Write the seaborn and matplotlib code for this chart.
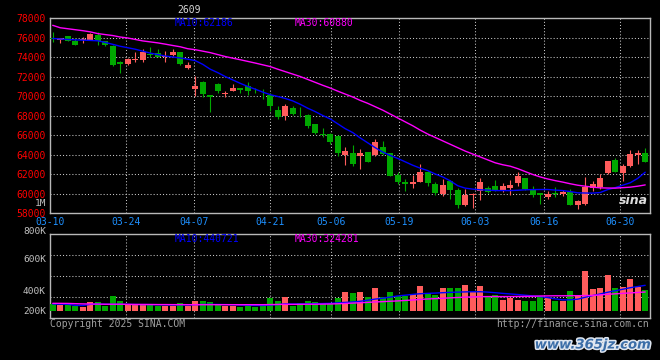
import numpy as np
import pandas as pd
import matplotlib
matplotlib.use("Agg")
import matplotlib.pyplot as plt
import matplotlib.patheffects as pe
import seaborn as sns

# daily K-line, 80 trading days 03-10 .. 07-04
open_ = [76000, 75730, 76140, 75630, 75700, 75760, 76270, 75600, 75120, 73520,
         73290, 73700, 73670, 74250, 74440, 74000, 74210, 74480, 72910, 70750,
         71390, 70140, 71250, 70170, 70540, 70850, 71050, 70540, 70340, 70140,
         68540, 67930, 68780, 68300, 68100, 67090, 66070, 66070, 65900, 63940,
         64140, 63800, 64270, 63930, 64720, 64140, 61900, 61220, 60980, 61220,
         62240, 60990, 59970, 61320, 60410, 58780, 59800, 60300, 60550, 60810,
         60410, 60550, 61090, 61560, 60410, 60070, 59630, 60000, 59900, 60140,
         58850, 58950, 60550, 60650, 62070, 63460, 62100, 62850, 63930, 64140]
high = [76550, 76000, 76200, 75900, 76050, 76470, 76540, 75650, 75220, 73540,
        73850, 74540, 74820, 75050, 74780, 74610, 74780, 74560, 73520, 72070,
        71560, 70140, 71340, 70470, 71260, 70850, 71460, 70820, 70710, 70310,
        68950, 69190, 69020, 68850, 68200, 67090, 66750, 66240, 65950, 64820,
        64950, 64550, 64270, 65630, 65390, 64200, 62170, 61490, 61900, 63020,
        62340, 61220, 61490, 61420, 60550, 60480, 60070, 61560, 60810, 61390,
        61090, 61390, 62170, 61560, 60810, 60070, 60300, 60650, 60380, 60480,
        59360, 61660, 61320, 62000, 63350, 63600, 63020, 64480, 64480, 64620]
low = [75550, 75430, 75600, 75230, 75430, 75720, 75220, 75100, 73120, 72400,
       73180, 73520, 73520, 73970, 73970, 73520, 74100, 73190, 72780, 69970,
       69900, 68340, 70270, 69900, 70470, 70310, 70140, 70300, 69700, 68440,
       67600, 67490, 68100, 67870, 66750, 66070, 65840, 65050, 63860, 62920,
       62850, 62510, 63190, 63800, 63930, 61800, 60990, 60300, 60550, 61160,
       60810, 59870, 59730, 59460, 58510, 58720, 58510, 59360, 60070, 60300,
       60200, 59870, 60810, 60390, 59630, 58950, 59460, 59630, 59790, 58780,
       58440, 58850, 60300, 60480, 62000, 62170, 61320, 62680, 63020, 63190]
close = [75850, 75960, 75630, 75250, 75800, 76340, 75660, 75200, 73190, 73260,
         73800, 73800, 74480, 74200, 74030, 74140, 74480, 73290, 73160, 71050,
         70240, 69910, 70470, 70310, 70850, 70640, 70470, 70470, 70270, 68950,
         67870, 69020, 68200, 68230, 66910, 66170, 66000, 65290, 64140, 64370,
         63020, 64140, 63250, 65290, 64040, 61830, 61220, 60980, 61220, 62240,
         61090, 60070, 60890, 60410, 58850, 59870, 59970, 61220, 60200, 60410,
         60810, 60890, 61830, 60500, 59800, 59800, 59970, 59940, 60200, 58850,
         59190, 60710, 60990, 61560, 63290, 62240, 62790, 64040, 64140, 63250]
ma10 = [75900, 75850, 75800, 75760, 75730, 75700, 75660, 75500, 75300, 75100,
        74950, 74800, 74600, 74400, 74250, 74100, 74000, 73900, 73780, 73630,
        73250, 72750, 72400, 72000, 71650, 71300, 70980, 70700, 70400, 70140,
        69950, 69750, 69500, 69150, 68750, 68400, 68000, 67650, 67150, 66650,
        66250, 65700, 65200, 64700, 64250, 63900, 63600, 63250, 62900, 62600,
        62350, 62000, 61700, 61300, 60800, 60550, 60450, 60380, 60350, 60300,
        60300, 60300, 60330, 60380, 60400, 60410, 60410, 60350, 60300, 60200,
        60070, 60050, 60040, 60100, 60400, 60600, 60850, 61100, 61550, 62186]
ma30 = [77250, 77000, 76900, 76800, 76700, 76580, 76400, 76300, 76200, 76050,
        75950, 75800, 75650, 75550, 75450, 75320, 75180, 75050, 74850, 74750,
        74600, 74450, 74250, 74050, 73880, 73720, 73550, 73380, 73200, 73020,
        72750, 72500, 72250, 72000, 71700, 71400, 71100, 70820, 70500, 70200,
        69900, 69550, 69250, 68900, 68550, 68150, 67750, 67350, 66950, 66500,
        66100, 65750, 65400, 65050, 64700, 64350, 64050, 63750, 63450, 63150,
        62950, 62800, 62550, 62250, 61950, 61700, 61490, 61320, 61170, 61000,
        60850, 60750, 60650, 60580, 60560, 60550, 60600, 60650, 60750, 60880]
volume = [114000, 96000, 96000, 79000, 66000, 144000, 144000, 84000, 254000, 166000,
          96000, 96000, 96000, 96000, 79000, 79000, 79000, 126000, 79000, 166000,
          166000, 144000, 96000, 79000, 79000, 66000, 79000, 56000, 96000, 214000,
          166000, 242000, 79000, 126000, 166000, 144000, 109000, 114000, 224000, 329000,
          312000, 329000, 242000, 399000, 242000, 329000, 254000, 259000, 289000, 429000,
          312000, 271000, 399000, 399000, 399000, 446000, 329000, 429000, 254000, 271000,
          184000, 224000, 184000, 166000, 166000, 242000, 214000, 166000, 166000, 341000,
          254000, 697000, 376000, 399000, 621000, 399000, 417000, 551000, 417000, 359000]
vol_ma10 = [114000, 112000, 110000, 90000, 88000, 108000, 112000, 110000, 108000, 110000,
            108000, 106000, 104000, 104000, 102000, 100000, 98000, 100000, 98000, 102000,
            106000, 108000, 106000, 104000, 102000, 96000, 92000, 88000, 88000, 96000,
            104000, 116000, 114000, 116000, 118000, 120000, 122000, 126000, 134000, 142000,
            150000, 162000, 180000, 200000, 215000, 235000, 255000, 268000, 282000, 294000,
            300000, 305000, 312000, 318000, 322000, 326000, 328000, 329000, 322000, 312000,
            300000, 290000, 280000, 268000, 256000, 244000, 226000, 204000, 186000, 188000,
            198000, 232000, 262000, 290000, 320000, 345000, 372000, 399000, 420000, 440721]
vol_ma30 = [126000, 125000, 124000, 120000, 116000, 114000, 112000, 110000, 110000, 110000,
            108000, 106000, 106000, 105000, 104000, 104000, 103000, 103000, 102000, 102000,
            102000, 102000, 102000, 102000, 102000, 102000, 102000, 102000, 102000, 104000,
            106000, 108000, 108000, 108000, 110000, 110000, 112000, 114000, 118000, 124000,
            130000, 136000, 142000, 150000, 155000, 162000, 168000, 176000, 184000, 194000,
            202000, 208000, 214000, 222000, 228000, 234000, 238000, 242000, 244000, 244000,
            244000, 244000, 246000, 248000, 250000, 254000, 256000, 258000, 258000, 259000,
            259000, 262000, 264000, 272000, 284000, 292000, 300000, 308000, 316000, 324281]

tick_days = [0, 10, 19, 29, 37, 46, 56, 65, 75]
tick_labels = ['03-10', '03-24', '04-07', '04-21', '05-06', '05-19', '06-03', '06-16', '06-30']
price_ticks = list(range(58000, 78001, 2000))
vol_labels = ['1M', '800K', '600K', '400K', '200K']
vol_label_y = [203, 231, 260, 291, 311]   # pixel rows used by the sina chart

RED = '#ff5c5c'
GREEN = '#00a800'
GRID = '#c8c8c8'
FRAME = '#b8b8b8'

df = pd.DataFrame({'day': np.arange(len(close)), 'open': open_, 'high': high,
                   'low': low, 'close': close, 'ma10': ma10, 'ma30': ma30,
                   'volume': volume, 'vma10': vol_ma10, 'vma30': vol_ma30})
df['dir'] = np.where(df['close'] >= df['open'], 'up', 'down')
colors = np.where(df['dir'] == 'up', RED, GREEN)

sns.set_theme(style="dark", rc={'axes.facecolor': 'black', 'figure.facecolor': 'black'})
plt.rcParams['font.family'] = ['DejaVu Sans Mono', 'DejaVu Sans']

W, H = 660, 360
fig = plt.figure(figsize=(6.6, 3.6), dpi=100, facecolor='black')


def box(l, t, r, b):
    return [l / W, 1 - b / H, (r - l) / W, (b - t) / H]


def ftext(x, y, s, **kw):
    kw.setdefault('fontsize', 7)
    kw.setdefault('va', 'center')
    fig.text(x / W, 1 - y / H, s, **kw)


ax_p = fig.add_axes(box(50, 18, 650, 213))
ax_v = fig.add_axes(box(50, 234, 650, 318))
XLIM = (-0.36, 79.64)
# sina puts the date grid on a slightly different step than the candles
grid_x = [XLIM[0] + d * 80 / 79 for d in tick_days]
dots = (0, (1, 2))

# ---- price panel
ax_p.vlines(df['day'], df['low'], df['high'], colors=colors, lw=0.8, zorder=3)
body_lo = np.minimum(df['open'], df['close'])
body_h = np.maximum((df['close'] - df['open']).abs(), 70)
ax_p.bar(df['day'], body_h, bottom=body_lo, width=0.76, color=colors, linewidth=0, zorder=3)
sns.lineplot(data=df, x='day', y='ma10', color='#0000ff', lw=1, ax=ax_p, zorder=4)
sns.lineplot(data=df, x='day', y='ma30', color='#ff00ff', lw=1, ax=ax_p, zorder=4)

for y in price_ticks[1:-1]:
    ax_p.axhline(y, color=GRID, lw=0.75, ls=dots, zorder=1)
for x in grid_x[1:]:
    ax_p.axvline(x, color=GRID, lw=0.75, ls=dots, zorder=1)

ax_p.set_xlim(*XLIM)
ax_p.set_ylim(58000, 78000)
ax_p.set_yticks(price_ticks)
ax_p.set_yticklabels([str(v) for v in price_ticks], color='#ff0000', fontsize=7)
ax_p.set_xticks(grid_x)
ax_p.set_xticklabels(tick_labels, color='#1e90ff', fontsize=7)
ax_p.tick_params(length=0, pad=3)
ax_p.tick_params(axis='x', pad=3)
ax_p.set_xlabel('')
ax_p.set_ylabel('')

# ---- volume panel
sns.barplot(data=df, x='day', y='volume', hue='dir', palette={'up': RED, 'down': GREEN},
            dodge=False, native_scale=True, width=0.76, saturation=1, errorbar=None,
            legend=False, linewidth=0, ax=ax_v, zorder=3)
sns.lineplot(data=df, x='day', y='vma10', color='#0000ff', lw=1, ax=ax_v, zorder=4)
sns.lineplot(data=df, x='day', y='vma30', color='#ff00ff', lw=1, ax=ax_v, zorder=4)
ax_v.set_xlim(*XLIM)
ax_v.set_ylim(-131000, 1339000)
lo, hi = ax_v.get_ylim()
for f in (0.25, 0.5, 0.75):
    ax_v.axhline(lo + f * (hi - lo), color=GRID, lw=0.75, ls=dots, zorder=1)
for x in grid_x[1:]:
    ax_v.axvline(x, color=GRID, lw=0.75, ls=dots, zorder=1)
ax_v.set_xticks([])
ax_v.set_yticks([])
ax_v.set_xlabel('')
ax_v.set_ylabel('')

for ax in (ax_p, ax_v):
    ax.set_facecolor('black')
    ax.grid(False)
    for s in ax.spines.values():
        s.set_visible(True)
        s.set_color(FRAME)
        s.set_linewidth(1)

# ---- texts
ftext(177, 10, '2609', color='#d8d8d8')
ftext(175, 23, 'MA10:62186', color='#0000ff')
ftext(295, 23, 'MA30:60880', color='#ff00ff')
ftext(175, 239, 'MA10:440721', color='#0000ff')
ftext(295, 239, 'MA30:324281', color='#ff00ff')
for lab, y in zip(vol_labels, vol_label_y):
    ftext(46, y, lab, ha='right', color='#c0c0c0', fontsize=6.8)
ftext(50, 324, 'Copyright 2025 SINA.COM', color='#a0a0a0')
ftext(649, 324, 'http://finance.sina.com.cn', ha='right', color='#a0a0a0')
ftext(633, 201, 'sina', ha='center', color='#dcdcdc', fontsize=9, weight='bold',
      style='italic', family=['DejaVu Sans'])
ftext(593, 345, 'www.365jz.com', ha='center', color='#3c6ea8', fontsize=9.5,
      weight='bold', style='italic', family=['DejaVu Sans'],
      path_effects=[pe.withStroke(linewidth=2.2, foreground='#dfe6f0')])

fig.savefig('out.png', dpi=100, facecolor='black')
